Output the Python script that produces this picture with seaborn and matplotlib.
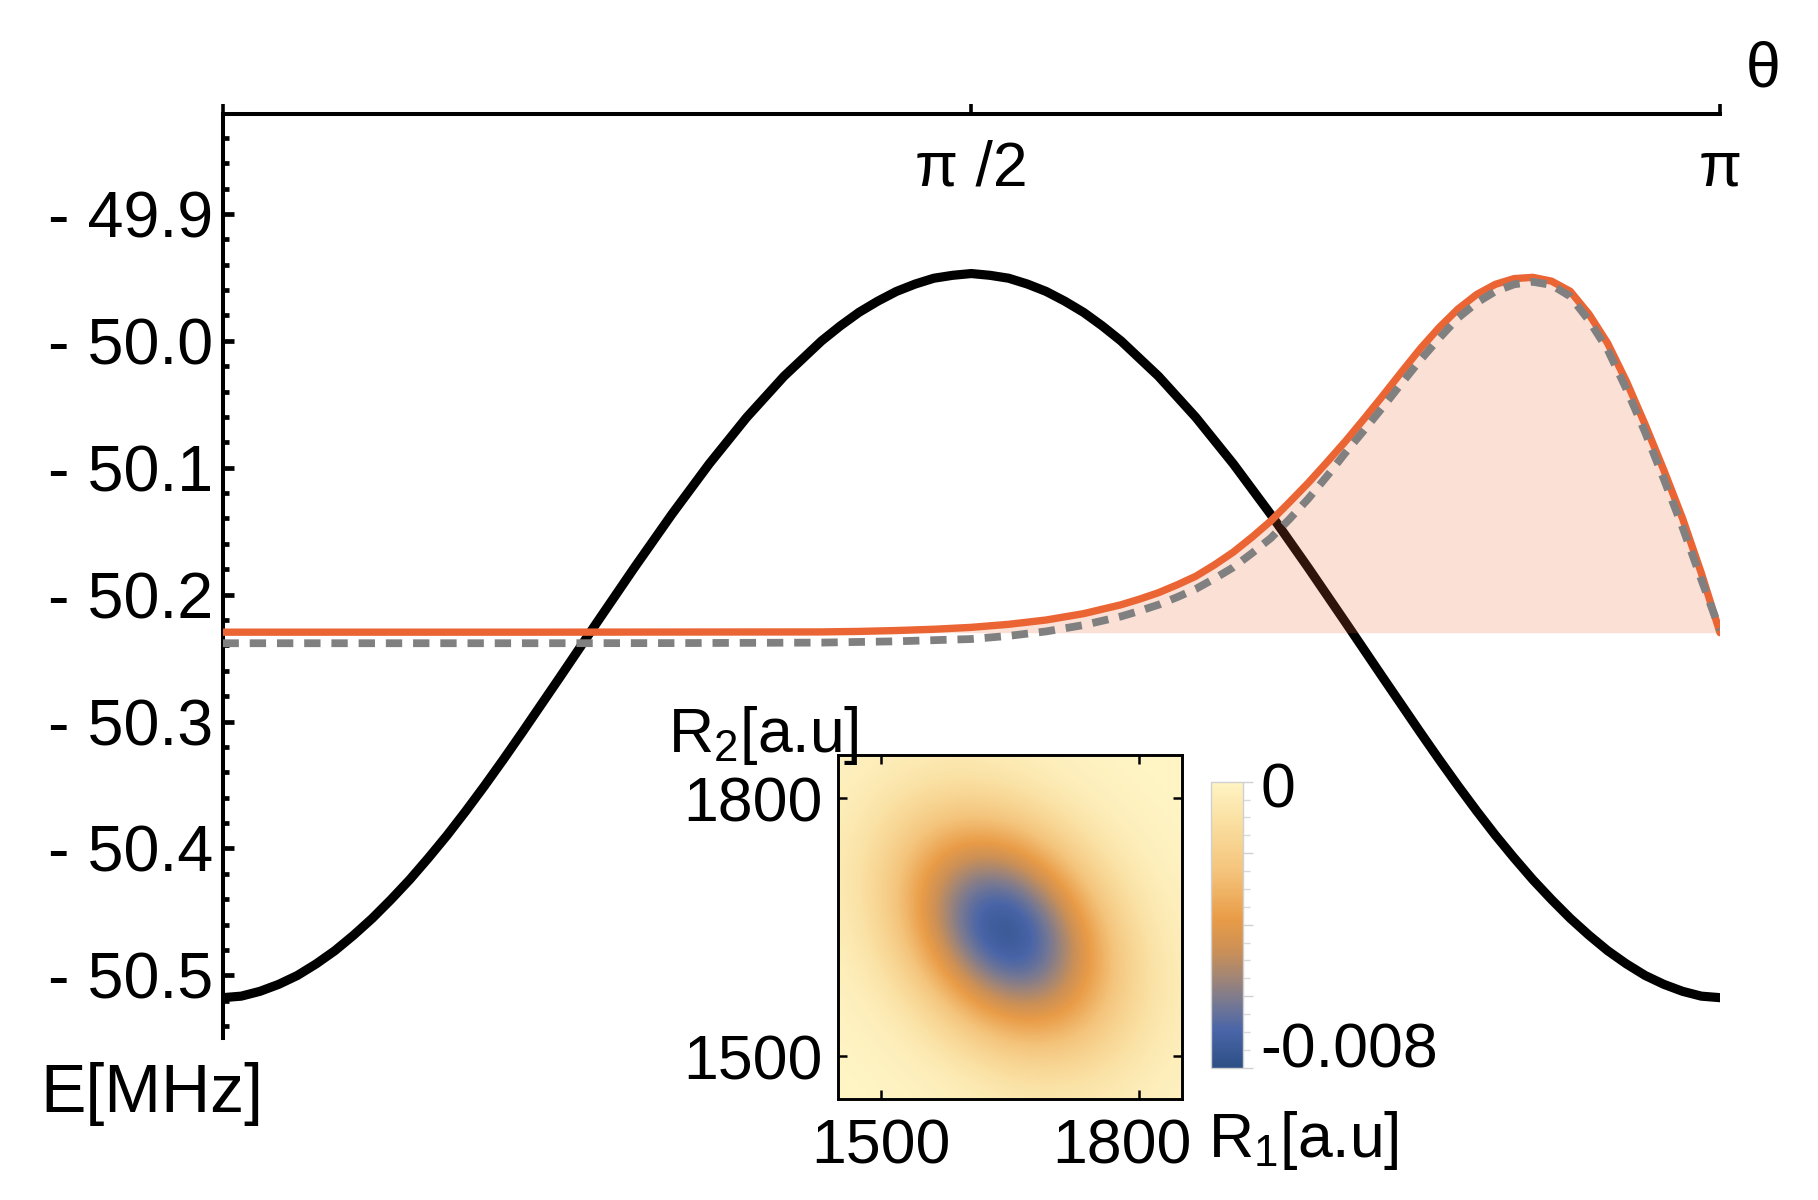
import numpy as np
import pandas as pd
import matplotlib
matplotlib.use("Agg")
import matplotlib.pyplot as plt
import seaborn as sns
from matplotlib.colors import LinearSegmentedColormap
from matplotlib.ticker import MultipleLocator
from matplotlib.transforms import ScaledTranslation

# theta is given in units of pi, energies in MHz
theta_black = [0.000, 0.0125, 0.025, 0.0375, 0.050, 0.0625, 0.075, 0.0875, 0.100, 0.1125, 0.125,
               0.1375, 0.150, 0.1625, 0.175, 0.1875, 0.200, 0.225, 0.250, 0.275, 0.300, 0.325,
               0.350, 0.375, 0.400, 0.4125, 0.425, 0.4375, 0.450, 0.4625, 0.475, 0.4875, 0.500,
               0.5125, 0.525, 0.5375, 0.550, 0.5625, 0.575, 0.5875, 0.600, 0.625, 0.650, 0.675,
               0.700, 0.725, 0.750, 0.775, 0.800, 0.8125, 0.825, 0.8375, 0.850, 0.8625, 0.875,
               0.8875, 0.900, 0.9125, 0.925, 0.9375, 0.950, 0.9625, 0.975, 0.9875, 1.000]
e_black = [-50.5176, -50.5164, -50.5126, -50.5071, -50.5001, -50.4910, -50.4806, -50.4684, -50.4551, -50.4403,
           -50.4246, -50.4075, -50.3896, -50.3705, -50.3506, -50.3300, -50.3088, -50.2656, -50.2220, -50.1788,
           -50.1368, -50.0970, -50.0604, -50.0279, -50.0001, -49.9883, -49.9776, -49.9688, -49.9611, -49.9553,
           -49.9507, -49.9484, -49.9470, -49.9484, -49.9507, -49.9553, -49.9611, -49.9688, -49.9776, -49.9883,
           -50.0001, -50.0279, -50.0604, -50.0970, -50.1368, -50.1788, -50.2220, -50.2656, -50.3088, -50.3300,
           -50.3506, -50.3705, -50.3896, -50.4075, -50.4246, -50.4403, -50.4551, -50.4684, -50.4806, -50.4910,
           -50.5001, -50.5071, -50.5126, -50.5164, -50.5176]

theta_orange = [0.00, 0.10, 0.20, 0.30, 0.40, 0.425, 0.45, 0.475, 0.50, 0.525, 0.55, 0.575, 0.60,
                0.6125, 0.625, 0.6375, 0.65, 0.6625, 0.675, 0.6875, 0.70, 0.7125, 0.725, 0.7375,
                0.75, 0.7625, 0.775, 0.7875, 0.80, 0.8125, 0.825, 0.8375, 0.85, 0.8625, 0.875,
                0.8875, 0.90, 0.9125, 0.925, 0.9375, 0.95, 0.9625, 0.975, 0.9875, 1.00]
e_orange = [-50.2296, -50.2296, -50.2296, -50.2295, -50.2294, -50.2290, -50.2283, -50.2273, -50.2258, -50.2234,
            -50.2200, -50.2150, -50.2080, -50.2035, -50.1985, -50.1923, -50.1855, -50.1765, -50.1665, -50.1547,
            -50.1420, -50.1272, -50.1120, -50.0957, -50.0790, -50.0612, -50.0430, -50.0243, -50.0060, -49.9895,
            -49.9750, -49.9635, -49.9555, -49.9510, -49.9500, -49.9530, -49.9610, -49.9790, -50.0020, -50.0320,
            -50.0660, -50.1020, -50.1400, -50.1830, -50.2300]

theta_gray = [0.00, 0.10, 0.20, 0.30, 0.40, 0.45, 0.50, 0.525, 0.55, 0.575, 0.60, 0.6125, 0.625,
              0.6375, 0.65, 0.6625, 0.675, 0.6875, 0.70, 0.7125, 0.725, 0.7375, 0.75, 0.7625, 0.775,
              0.7875, 0.80, 0.8125, 0.825, 0.8375, 0.85, 0.8625, 0.875, 0.8875, 0.90, 0.9125, 0.925,
              0.9375, 0.95, 0.9625, 0.975, 0.9875, 1.00]
e_gray = [-50.2383, -50.2383, -50.2383, -50.2382, -50.2378, -50.2368, -50.2350, -50.2325, -50.2290, -50.2240,
          -50.2172, -50.2128, -50.2080, -50.2020, -50.1955, -50.1873, -50.1785, -50.1673, -50.1555, -50.1405,
          -50.1245, -50.1067, -50.0880, -50.0702, -50.0520, -50.0333, -50.0150, -49.9980, -49.9820, -49.9700,
          -49.9610, -49.9555, -49.9535, -49.9560, -49.9650, -49.9840, -50.0070, -50.0380, -50.0720, -50.1090,
          -50.1470, -50.1880, -50.2280]

fill_base = -50.23

y_ticks = [-49.9, -50.0, -50.1, -50.2, -50.3, -50.4, -50.5]
y_tick_labels = ["- 49.9", "- 50.0", "- 50.1", "- 50.2", "- 50.3", "- 50.4", "- 50.5"]
x_ticks = [0.0, 0.5, 1.0]
x_tick_labels = ["", "π /2", "π"]

# inset: energy shift (in 1e-3 units) on an R1 x R2 grid, rows go up in R2
r_grid = [1450, 1490, 1530, 1570, 1610, 1650, 1690, 1730, 1770, 1810, 1850]
inset_ticks = [1500, 1800]
shift_milli = [
    [-0.006, -0.016, -0.06, -0.16, -0.33, -0.55, -0.65, -0.62, -0.45, -0.26, -0.11],
    [-0.016, -0.065, -0.20, -0.51, -0.98, -1.44, -1.65, -1.45, -0.99, -0.52, -0.21],
    [-0.045, -0.18, -0.55, -1.29, -2.29, -3.14, -3.32, -2.70, -1.70, -0.82, -0.30],
    [-0.12, -0.43, -1.20, -2.57, -4.25, -5.41, -5.30, -4.00, -2.33, -1.05, -0.36],
    [-0.24, -0.80, -2.06, -4.08, -6.24, -7.37, -6.69, -4.68, -2.52, -1.05, -0.34],
    [-0.38, -1.16, -2.79, -5.14, -7.29, -7.96, -6.69, -4.34, -2.17, -0.83, -0.24],
    [-0.47, -1.36, -3.01, -5.13, -6.74, -6.81, -5.32, -3.19, -1.48, -0.53, -0.15],
    [-0.47, -1.25, -2.56, -4.05, -4.93, -4.63, -3.35, -1.86, -0.80, -0.26, -0.065],
    [-0.37, -0.91, -1.74, -2.54, -2.86, -2.49, -1.67, -0.86, -0.34, -0.11, -0.024],
    [-0.23, -0.53, -0.93, -1.26, -1.32, -1.06, -0.66, -0.32, -0.12, -0.032, -0.009],
    [-0.11, -0.24, -0.39, -0.50, -0.48, -0.36, -0.21, -0.09, -0.032, -0.009, -0.003],
]

sns.set_style("white")
plt.rcParams["font.family"] = ["Liberation Sans", "DejaVu Sans"]
plt.rcParams["mathtext.fontset"] = "custom"
plt.rcParams["mathtext.rm"] = "Liberation Sans"
plt.rcParams["mathtext.default"] = "regular"
for key in ["text.color", "axes.labelcolor", "xtick.color", "ytick.color"]:
    plt.rcParams[key] = "black"

df_black = pd.DataFrame({"theta": np.array(theta_black) * np.pi, "E": e_black})
df_orange = pd.DataFrame({"theta": np.array(theta_orange) * np.pi, "E": e_orange})
df_gray = pd.DataFrame({"theta": np.array(theta_gray) * np.pi, "E": e_gray})

fig = plt.figure(figsize=(18.18, 12), dpi=100)
ax = fig.add_axes([0.1224, 0.1354, 0.8237, 0.7699])

sns.lineplot(data=df_black, x="theta", y="E", color="black", linewidth=6.6, ax=ax, zorder=2)
ax.fill_between(df_orange["theta"], df_orange["E"], fill_base, color="#EB6534", alpha=0.2, lw=0, zorder=3)
sns.lineplot(data=df_orange, x="theta", y="E", color="#EB6534", linewidth=5.3, ax=ax, zorder=4)
sns.lineplot(data=df_gray, x="theta", y="E", color="#808080", linewidth=5.6, ax=ax, zorder=5,
             linestyle=(0, (2.1, 1.4)))

ax.set_xlim(0, np.pi)
ax.set_ylim(-50.549, -49.821)
for side in ["right", "bottom"]:
    ax.spines[side].set_visible(False)
for side in ["top", "left"]:
    ax.spines[side].set_linewidth(2.9)
    ax.spines[side].set_color("black")

ax.xaxis.tick_top()
ax.set_xticks(np.array(x_ticks) * np.pi, x_tick_labels)
ax.tick_params(axis="x", which="major", direction="out", length=7, width=2.6, pad=-68.4,
               labelsize=45, top=True, bottom=False, labeltop=True, labelbottom=False)
ax.set_yticks(y_ticks, y_tick_labels)
ax.yaxis.set_minor_locator(MultipleLocator(0.02))
ax.tick_params(axis="y", which="both", left=True, right=False)
ax.tick_params(axis="y", which="major", direction="in", length=8.2, width=3.4, pad=6.5, labelsize=46.5)
ax.tick_params(axis="y", which="minor", direction="in", length=4.6, width=3.4)

ax.set_xlabel("θ", fontsize=45, ha="left", va="baseline")
ax.xaxis.set_label_coords(1.0174, 1.0299)
ax.set_ylabel("E[MHz]", fontsize=49, rotation=0, ha="left", va="baseline")
ax.yaxis.set_label_coords(-0.1219, -0.0806)

# inset map
cmap = LinearSegmentedColormap.from_list("inset", [
    (0.00, "#2C4F85"), (0.13, "#4A65A8"), (0.225, "#767893"), (0.32, "#A48674"),
    (0.41, "#CC9056"), (0.52, "#E99C47"), (0.69, "#F4C47C"), (0.866, "#FAE0A2"),
    (1.00, "#FFF4C4")])

ins = fig.add_axes([0.4611, 0.0839, 0.1889, 0.2869])
z = np.array(shift_milli) * 1e-3
step = r_grid[1] - r_grid[0]
ins.imshow(z, origin="lower", cmap=cmap, vmin=-0.008, vmax=0.0, interpolation="bicubic",
           extent=[r_grid[0] - step / 2, r_grid[-1] + step / 2, r_grid[0] - step / 2, r_grid[-1] + step / 2],
           aspect="auto")
ins.set_xlim(r_grid[0], r_grid[-1])
ins.set_ylim(r_grid[0], r_grid[-1])
ins.set_xticks(inset_ticks, [str(t) for t in inset_ticks])
ins.set_yticks(inset_ticks, [str(t) for t in inset_ticks])
ins.tick_params(axis="both", which="major", direction="in", length=6.5, width=1.8, labelsize=45,
                top=True, right=True, bottom=True, left=True)
ins.tick_params(axis="x", pad=13)
ins.tick_params(axis="y", pad=11.5)
for sp in ins.spines.values():
    sp.set_linewidth(2.1)
    sp.set_color("black")
ins.set_ylabel("R$_2$[a.u]", fontsize=45, rotation=0, ha="left", va="baseline")
ins.yaxis.set_label_coords(-0.496, 1.0075)
ins.set_xlabel("R$_1$[a.u]", fontsize=45, ha="left", va="baseline")
ins.xaxis.set_label_coords(1.0766, -0.1667)

# colour bar
cax = fig.add_axes([0.6660, 0.1103, 0.01777, 0.2383])
sm = plt.cm.ScalarMappable(cmap=cmap, norm=plt.Normalize(-0.008, 0.0))
cbar = fig.colorbar(sm, cax=cax)
cbar.outline.set_edgecolor("#D0D0D0")
cbar.outline.set_linewidth(1)
cax.yaxis.set_major_locator(MultipleLocator(0.002))
cax.yaxis.set_minor_locator(MultipleLocator(0.0005))
cax.tick_params(which="both", right=True, left=False)
cax.tick_params(which="major", length=7, width=1, color="#D0D0D0", labelright=False)
cax.tick_params(which="minor", length=5, width=1, color="#D9D9D9")
cax.text(1.526, 0.908, "0", transform=cax.transAxes, fontsize=45, ha="left", va="baseline")
cax.text(1.526, 0.0, "-0.008", transform=cax.transAxes, fontsize=45, ha="left", va="baseline")

# the 1800 label on the inset x axis sits a little left of its tick
fig.canvas.draw()
lbl = ins.get_xticklabels()[1]
lbl.set_transform(lbl.get_transform() + ScaledTranslation(-0.17, 0, fig.dpi_scale_trans))

fig.savefig("out.png", dpi=100, facecolor="white")
